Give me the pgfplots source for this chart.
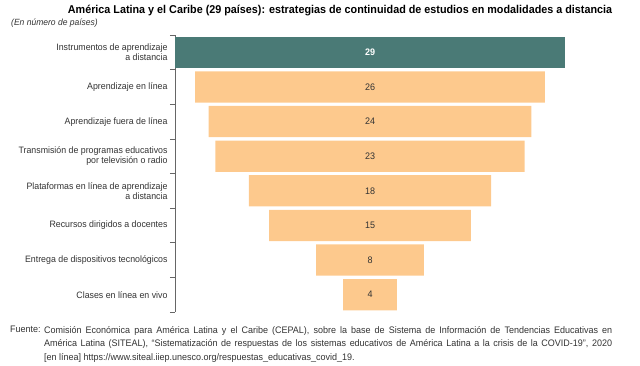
\documentclass[border=0pt]{standalone}
\usepackage{pgfplots}
\pgfplotsset{compat=1.18}
\usepackage{pgfplotstable}
\usepackage{fontspec}
\setmainfont{Liberation Sans}[FakeStretch=0.95]
\definecolor{tealbar}{HTML}{4A7A76}
\definecolor{orangebar}{HTML}{FDC98D}
\definecolor{txt}{HTML}{333333}
\definecolor{axgray}{HTML}{666666}
\pgfplotstableread{
y off teal orange
0 0    29 0
1 1.5  0  26
2 2.5  0  24
3 3    0  23
4 5.5  0  18
5 7    0  15
6 10.5 0  8
7 12.5 0  4
}\bars
\pgfplotstableread{
y mid lab
1 14.5 26
2 14.5 24
3 14.5 23
4 14.5 18
5 14.5 15
6 14.5 8
7 14.5 4
}\labs
\begin{document}
\begin{tikzpicture}
\useasboundingbox (0,0) rectangle (640bp,366bp);
\pgfplotsset{base/.style={
  scale only axis, width=390bp, height=277bp,
  at={(175bp,54bp)}, anchor=south west,
  xmin=0, xmax=29, ymin=-0.5, ymax=7.5, y dir=reverse}}
\begin{axis}[base,
  xbar stacked, bar width=0.9,
  axis x line=none, axis y line*=left,
  axis line style={axgray, line width=0.7bp},
  ytick={0,...,7}, major tick length=0pt,
  minor ytick={-0.5,0.5,...,7.5}, minor tick length=5bp,
  tick align=outside, tick style={axgray, line width=0.6bp},
  yticklabels={{Instrumentos de aprendizaje\\a distancia},
    {Aprendizaje en línea},
    {Aprendizaje fuera de línea},
    {Transmisión de programas educativos\\por televisión o radio},
    {Plataformas en línea de aprendizaje\\a distancia},
    {Recursos dirigidos a docentes},
    {Entrega de dispositivos tecnológicos},
    {Clases en línea en vivo}},
  yticklabel style={align=right, text=txt, font=\fontsize{9.3}{9.8}\selectfont, xshift=-4bp},
]
\addplot[draw=none, fill=none] table[x=off, y=y] {\bars};
\addplot[draw=none, fill=tealbar] table[x=teal, y=y] {\bars};
\addplot[draw=none, fill=orangebar] table[x=orange, y=y] {\bars};
\end{axis}
\begin{axis}[base, hide axis]
\addplot[only marks, mark=text, text mark={},
  nodes near coords, point meta=explicit symbolic,
  nodes near coords align=center,
  every node near coord/.append style={text=white, font=\fontsize{9.5}{10}\selectfont\bfseries}]
  coordinates {(14.5,0) [29]};
\addplot[only marks, mark=text, text mark={},
  nodes near coords, point meta=explicit symbolic,
  nodes near coords align=center,
  every node near coord/.append style={text=txt, font=\fontsize{9.5}{10}\selectfont}]
  table[x=mid, y=y, meta=lab] {\labs};
\end{axis}
\node[anchor=center, text=black, font=\fontsize{11.4}{12}\selectfont\bfseries] at (340bp,355bp)
  {América Latina y el Caribe (29 países): estrategias de continuidad de estudios en modalidades a distancia};
\node[anchor=west, inner sep=0pt, text=txt, font=\fontsize{9}{9}\selectfont\itshape] at (11bp,343bp)
  {(En número de países)};
\node[anchor=north west, inner sep=0pt, text=txt, font=\fontsize{9.5}{13.5}\selectfont] at (10bp,40bp) {Fuente:};
\node[anchor=north west, inner sep=0pt, text=txt, text width=568bp, align=justify,
  font=\fontsize{9.5}{13.5}\selectfont] at (44bp,40bp)
  {Comisión Económica para América Latina y el Caribe (CEPAL), sobre la base de Sistema de Información de Tendencias Educativas en\linebreak{}
   América Latina (SITEAL), “Sistematización de respuestas de los sistemas educativos de América Latina a la crisis de la COVID-19”, 2020\linebreak{}
   {[}en línea{]} https://www.siteal.iiep.unesco.org/respuestas\_educativas\_covid\_19.};
\end{tikzpicture}
\end{document}
